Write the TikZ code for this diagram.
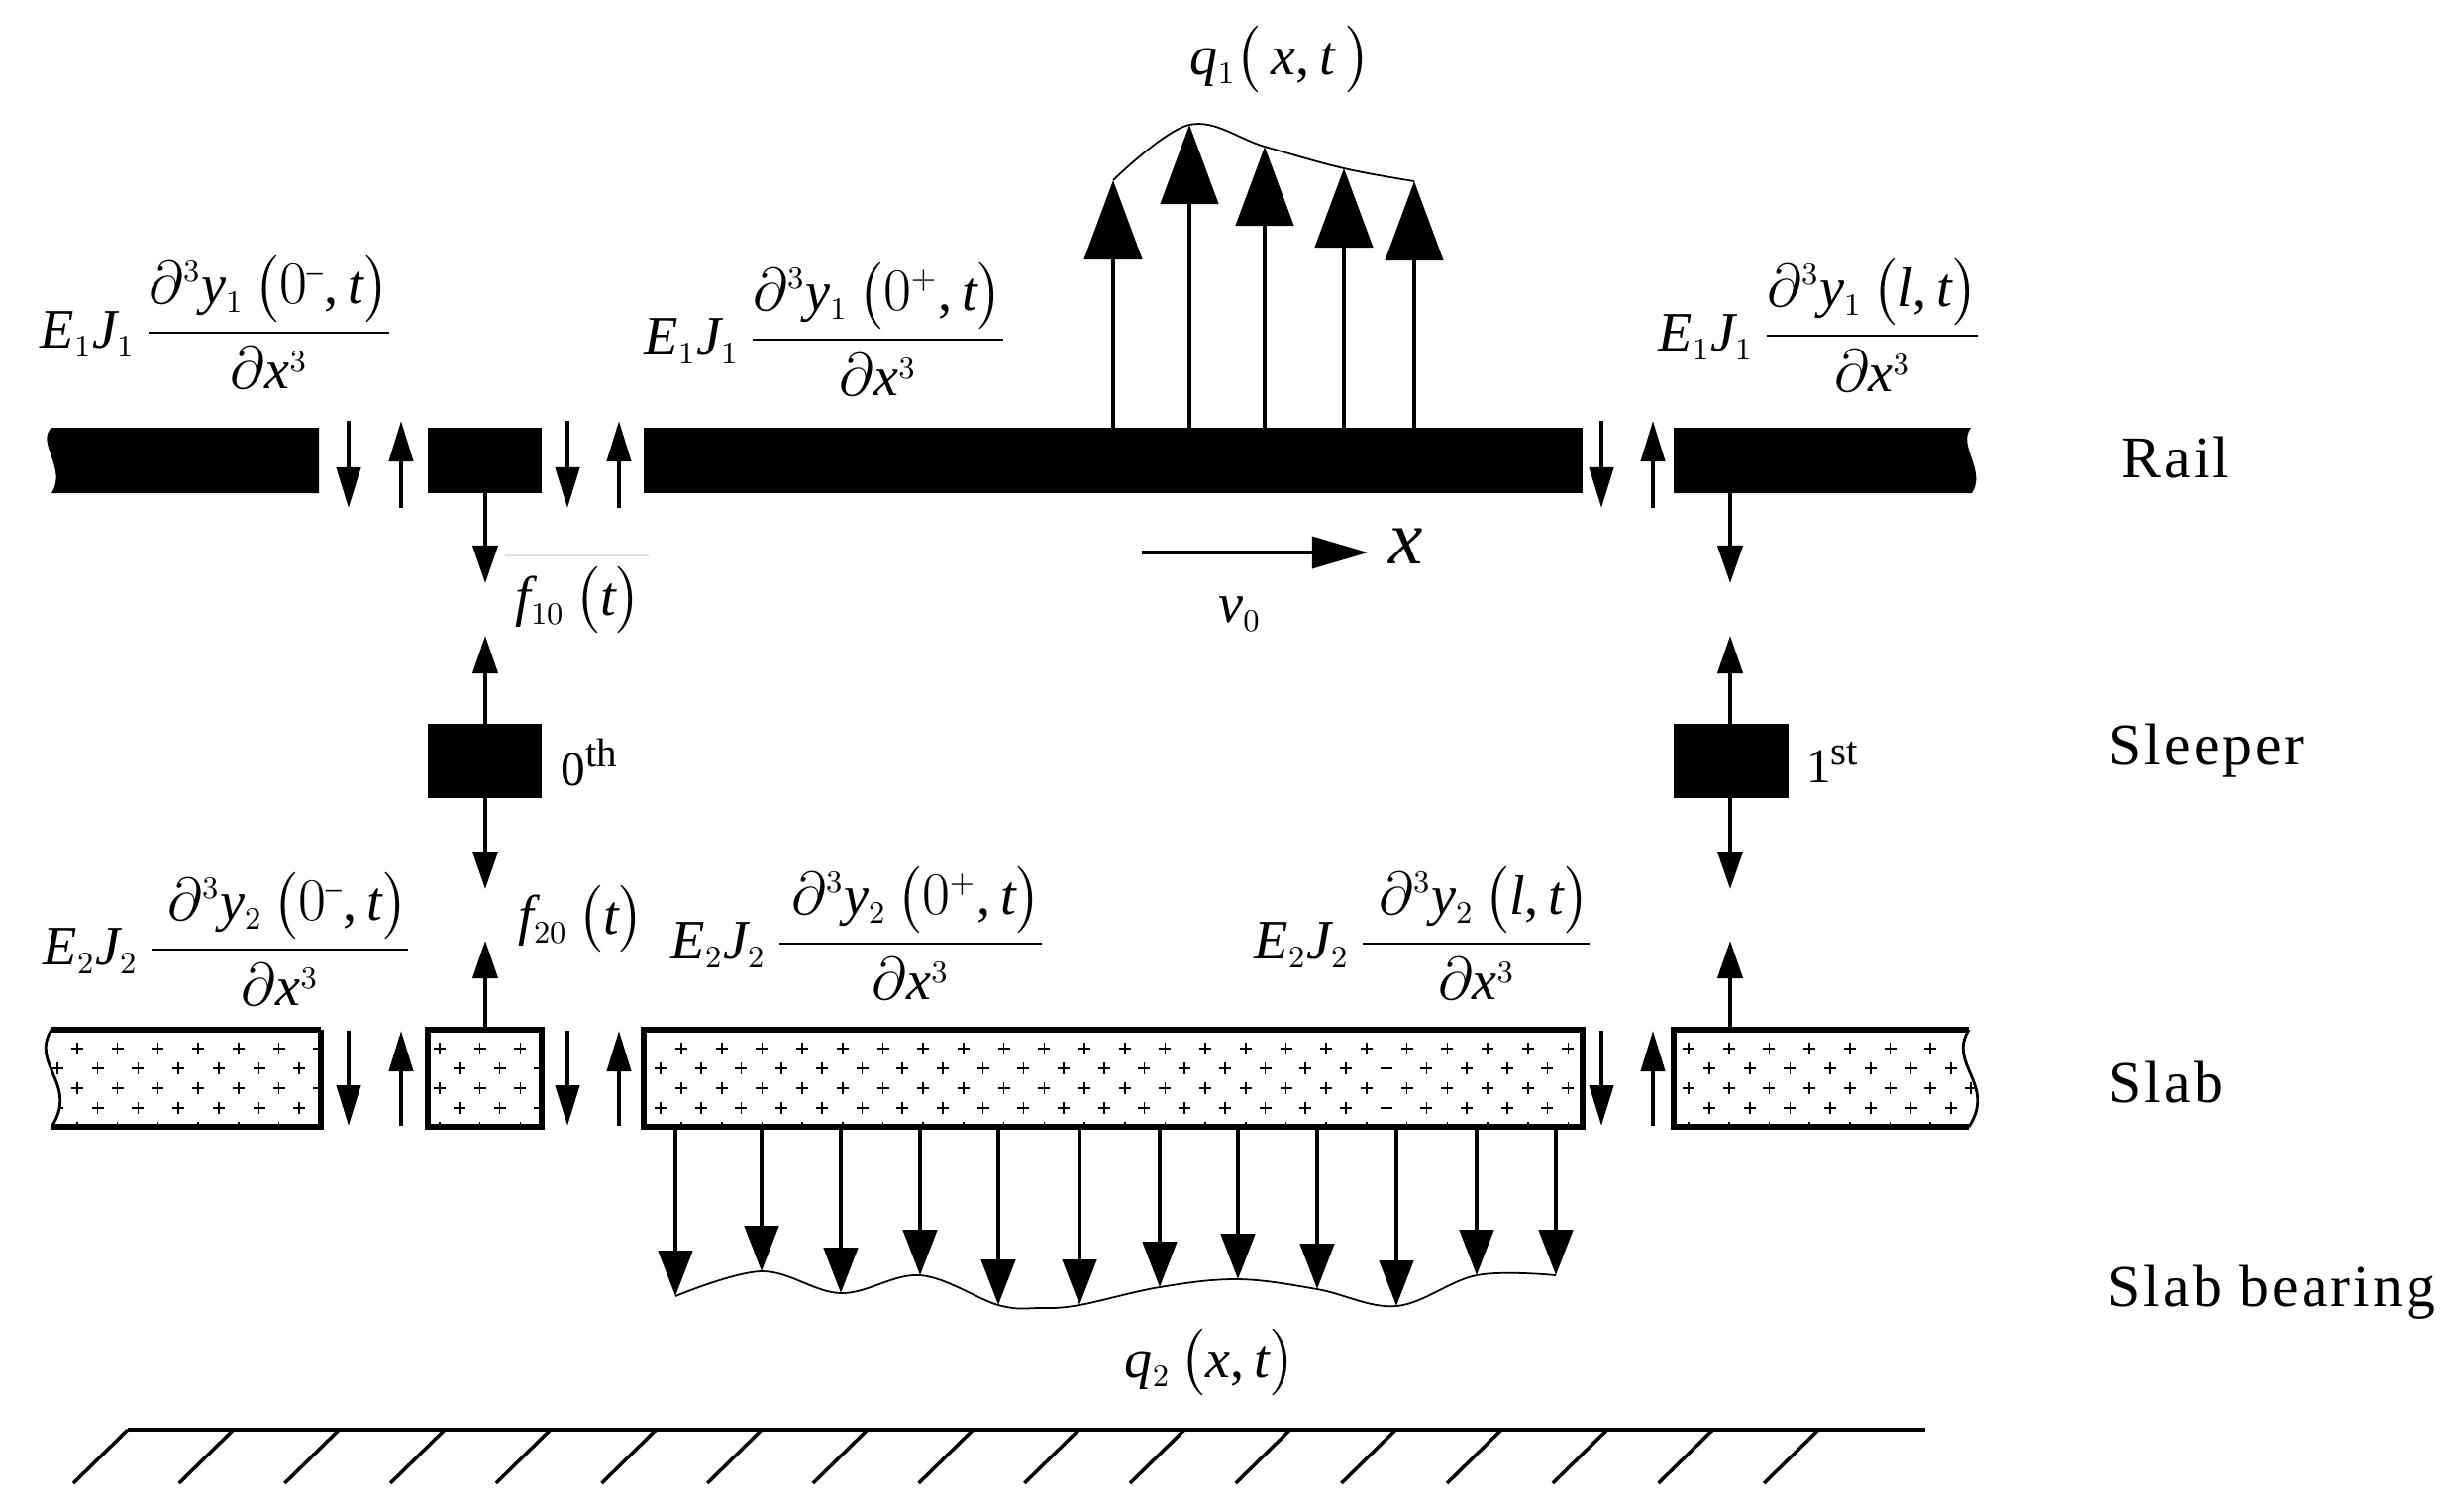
\documentclass[tikz,border=0pt]{standalone}
\usepackage{amsmath,amssymb}
\usepackage{fontspec}
\setmainfont{Liberation Serif}
\usepackage[italic]{mathastext}
\usepackage{tikz}
\usetikzlibrary{arrows.meta}
\DeclareMathSizes{16}{16}{9}{7}
\newcommand{\ttfrac}[4]{$#1\,\dfrac{\hspace{#4}\partial^3 #2\,\bigl(#3,t\bigr)}{\partial x^3}$}
\newcommand{\plusrows}[3]{%
  \foreach \py/\px in {1059/#1,1079/#2,1099/#1,1119/#2,1139/#1}
    \foreach \pn in {0,...,#3}
      \draw[plusmark] (\px+\pn*40.7,\py) ++(-6,0) -- ++(12,0) ++(-6,-6) -- ++(0,12);}
\tikzset{
  solidbar/.style={fill=black, draw=none},
  slabedge/.style={draw=black, line width=1.7pt, line join=miter},
  plusmark/.style={draw=black, line width=0.45pt},
  gapdown/.style={line width=1.2pt, -{Triangle[length=0.41cm,width=0.24cm]}},
  linkforce/.style={line width=1.2pt, -{Triangle[length=0.38cm,width=0.25cm]}},
  loadup/.style={line width=1.3pt, -{Triangle[length=0.8cm,width=0.58cm]}},
  loaddown/.style={line width=1.4pt, -{Triangle[length=0.46cm,width=0.34cm]}},
  outline/.style={draw=black, line width=0.5pt},
  moment/.style={anchor=base west, inner sep=0pt, font=\fontsize{16}{20}\selectfont},
  lbl/.style={inner sep=0pt, font=\fontsize{16}{20}\selectfont},
  ordinal/.style={inner sep=0pt, font=\fontsize{14}{17}\selectfont},
  rowname/.style={anchor=west, inner sep=0pt, font=\fontsize{17}{21}\selectfont\addfontfeature{LetterSpace=5}}
}
\begin{document}
\begin{tikzpicture}[x=0.01cm,y=-0.01cm]
\useasboundingbox (0,0) rectangle (2488,1520);

% rail
\fill[solidbar] (322,432) -- (52,432) .. controls (36,447) and (68,473) .. (52,498) -- (322,498) -- cycle;
\fill[solidbar] (432,432) rectangle (547,498);
\fill[solidbar] (650,432) rectangle (1598,498);
\fill[solidbar] (1690,432) -- (1990,432) .. controls (1976,450) and (2006,475) .. (1991,498) -- (1690,498) -- cycle;

% sleepers
\fill[solidbar] (432,731) rectangle (547,806);
\fill[solidbar] (1690,731) rectangle (1806,806);

% slab
\begin{scope}
\clip (324,1040) -- (52,1040) .. controls (30,1075) and (80,1095) .. (52,1138) -- (324,1138) -- cycle;
\plusrows{78}{58}{6}
\end{scope}
\draw[slabedge] (324,1040) -- (52,1040);
\draw[slabedge] (52,1138) -- (324,1138) -- (324,1040);
\draw[outline, line width=0.8pt] (52,1040) .. controls (30,1075) and (80,1095) .. (52,1138);
\begin{scope}
\clip (432,1040) rectangle (547,1138);
\plusrows{444}{464}{2}
\end{scope}
\draw[slabedge] (432,1040) rectangle (547,1138);
\begin{scope}
\clip (650,1040) rectangle (1598,1138);
\plusrows{688}{667}{23}
\end{scope}
\draw[slabedge] (650,1040) rectangle (1598,1138);
\begin{scope}
\clip (1988,1040) -- (1690,1040) -- (1690,1138) -- (1988,1138) .. controls (2016,1095) and (1966,1075) .. (1988,1040);
\plusrows{1705}{1726}{7}
\end{scope}
\draw[slabedge] (1988,1040) -- (1690,1040) -- (1690,1138) -- (1988,1138);
\draw[outline, line width=0.8pt] (1988,1138) .. controls (2016,1095) and (1966,1075) .. (1988,1040);

% forces in the gaps
\foreach \gx in {352,573,1617} {
  \draw[gapdown] (\gx,425) -- (\gx,513);
  \draw[gapdown] (\gx,1041) -- (\gx,1137);
}
\foreach \gx in {405,625,1669} {
  \draw[gapdown] (\gx,513) -- (\gx,425);
  \draw[gapdown] (\gx,1137) -- (\gx,1041);
}

% forces between the layers
\foreach \lx in {490,1747} {
  \draw[linkforce] (\lx,498) -- (\lx,589);
  \draw[linkforce] (\lx,731) -- (\lx,642);
  \draw[linkforce] (\lx,806) -- (\lx,898);
  \draw[linkforce] (\lx,1040) -- (\lx,950);
}
\draw[gray!25, line width=0.5pt] (510,561) -- (655,561);

% load on the rail
\foreach \qx/\qy in {1124/182,1201/126,1277/148,1357/170,1428/183}
  \draw[loadup] (\qx,432) -- (\qx,\qy);
\draw[outline] plot[smooth,tension=0.6] coordinates {(1124,182) (1201,126) (1277,148) (1357,170) (1428,183)};

% load under the slab
\foreach \qx/\qy in {682/1309,769/1284,849/1306,929/1288,1008/1318,1090/1318,1171/1300,1250/1292,1330/1302,1410/1319,1491/1288,1571/1288}
  \draw[loaddown] (\qx,1138) -- (\qx,\qy);
\draw[outline] plot[smooth,tension=0.6] coordinates {(682,1309) (769,1284) (849,1306) (929,1288) (1008,1318) (1050,1321) (1090,1318) (1171,1300) (1250,1292) (1330,1302) (1410,1319) (1491,1288) (1571,1288)};

% speed arrow
\draw[line width=1pt, -{Triangle[length=0.56cm,width=0.32cm]}] (1153,558) -- (1381,558);

% ground
\draw[line width=1.2pt] (129,1444) -- (1944,1444);
\foreach \hn in {0,...,16}
  \draw[line width=1pt] (129+\hn*106.7,1444) -- ++(-55,54);

% moments
\node[moment] (mra) at (40,351) {\ttfrac{E_1J_1}{y_1}{0^-}{0cm}};
\node[moment] (mrb) at (650,358) {\ttfrac{E_1J_1}{y_1}{0^+}{0cm}};
\node[moment] (mrc) at (1674,354) {\ttfrac{E_1J_1}{y_1}{l}{0cm}};
\node[moment] (msa) at (43,974) {\ttfrac{E_2J_2}{y_2}{0^-}{0.16cm}};
\node[moment] (msb) at (677,968) {\ttfrac{E_2J_2}{y_2}{0^+}{0.12cm}};
\node[moment] (msc) at (1266,968) {\ttfrac{E_2J_2}{y_2}{l}{0.16cm}};

% labels
\node[lbl] (qa) at (1293,60) {$q_1\bigl(\,x,t\,\bigr)$};
\node[lbl] (qb) at (1222,1376) {$q_2\,\bigl(x,t\bigr)$};
\node[lbl] (fa) at (584,606) {$f_{10}\,\bigl(t\bigr)$};
\node[lbl] (fb) at (587,928) {$f_{20}\,\bigl(t\bigr)$};
\node[lbl] (vel) at (1252,620) {$v_0$};
\node[inner sep=0pt, font=\fontsize{22}{26}\selectfont] (xax) at (1420,552) {$x$};
\node[ordinal] (sa) at (596,770) {0\textsuperscript{th}};
\node[ordinal] (sb) at (1851,770) {1\textsuperscript{st}};
\node[rowname] (rail) at (2142,462) {Rail};
\node[rowname] (slpr) at (2129,758) {Sleeper};
\node[rowname] (slab) at (2129,1093) {Slab};
\node[rowname] (sbrg) at (2128,1305) {Slab bearing};
\end{tikzpicture}
\end{document}
